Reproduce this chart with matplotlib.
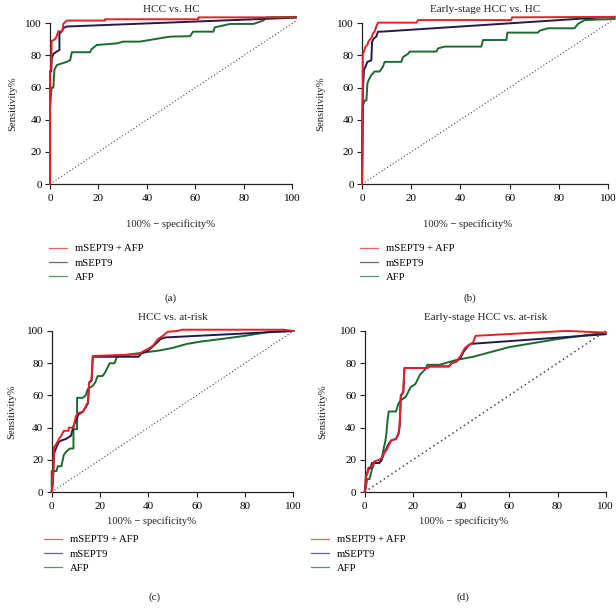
import matplotlib.pyplot as plt
from matplotlib.lines import Line2D

plt.rcParams['font.family'] = ['Liberation Serif', 'DejaVu Serif']

W, H = 616, 610

series_names = ['mSEPT9 + AFP', 'mSEPT9', 'AFP']
series_colors = ['#e3202a', '#1e1d4a', '#1c6a2f']
legend_colors = ['#e66266', '#66658c', '#5a9668']

titles = ['HCC vs. HC', 'Early-stage HCC vs. HC', 'HCC vs. at-risk', 'Early-stage HCC vs. at-risk']
panel_tags = ['(a)', '(b)', '(c)', '(d)']
ticks = [0, 20, 40, 60, 80, 100]

# (a) HCC vs. HC
a_combo_x = [0, 0, 0.5, 0.7, 2, 2.7, 3.4, 4.8, 5.2, 5.5, 6.9, 22.7, 22.7, 61.2, 61.2, 101.4]
a_combo_y = [0, 70, 72, 89, 90, 91.7, 95, 95, 96, 99.6, 101.7, 101.7, 102.5, 102.5, 103.7, 103.7]
a_sept9_x = [0, 0, 0.5, 0.7, 1.4, 2.8, 3.9, 3.9, 4.8, 5.5, 6.9, 101.4]
a_sept9_y = [0, 70, 70, 78, 81, 82.4, 83.4, 93.8, 94.8, 97, 98, 103.5]
a_afp_x = [0, 0, 0.3, 0.7, 1.4, 1.8, 2.8, 4.8, 6.9, 8.3, 9, 16.5, 17.2, 19.3, 27.5, 30.3, 37, 49.5,
           57.8, 59, 67.4, 68, 74.3, 83.9, 88, 89.4, 101.4]
a_afp_y = [0, 46, 54, 60, 60, 71, 74, 75, 76, 77, 82, 82, 84, 86.5, 87.5, 88.6, 88.6, 91.7,
           92, 94.8, 94.8, 97.5, 99.6, 99.6, 101.7, 103.7, 104]

# (b) Early-stage HCC vs. HC
b_combo_x = [0, 0.3, 0.3, 0.8, 1.4, 2.2, 2.7, 3.8, 4.5, 5.1, 5.8, 6.5, 22.1, 22.8, 60.7, 61, 102.7]
b_combo_y = [0, 58.5, 81, 82.4, 85.5, 86.5, 89, 90.7, 93.8, 94.8, 98, 100.4, 100.4, 102, 102, 103.7, 104]
b_sept9_x = [0, 0.2, 0.4, 0.8, 1.4, 2.2, 3.8, 4.1, 4.9, 5.8, 6.5, 7.9, 97.3, 102.7]
b_sept9_y = [0, 46, 59.5, 71, 73, 76, 77, 88.6, 90.7, 91.7, 94.8, 94.8, 103.7, 104]
b_afp_x = [0, 0.4, 1.1, 1.8, 2.2, 2.7, 3.8, 5.1, 7.2, 8.5, 9.2, 16, 16.7, 18.7, 19.4, 30.2, 30.9,
           33.6, 48.5, 49.2, 58.7, 59.1, 71.5, 72.2, 75.6, 86.4, 87.8, 90.5, 102.7]
b_afp_y = [0, 49, 52, 52, 62.6, 64.7, 67.8, 70, 70, 73, 76, 76, 79, 81, 82.4, 82.4, 84.4,
           85.5, 85.5, 89.6, 89.6, 94.2, 94.2, 95.4, 96.9, 96.9, 99.6, 102, 102.7]

# (c) HCC vs. at-risk
c_combo_x = [0, 0.5, 1, 2, 3, 4, 5, 7, 7, 9, 10, 11, 13, 14, 15, 15.5, 16.5, 17, 36, 38, 40,
             42, 44, 46, 48, 52, 54, 96, 100]
c_combo_y = [0, 8, 28, 30, 33, 35, 38, 38, 40, 40, 47, 49, 50, 53, 56, 68, 70, 84.5, 85.5, 87.5, 89,
             91, 95, 97, 99.5, 100, 100.8, 100.8, 100]
c_sept9_x = [0, 0.5, 1, 2, 3, 4, 6, 8, 9, 10, 11, 13, 15, 15.5, 16.5, 17, 36, 37, 40, 43, 45, 47, 100]
c_sept9_y = [0, 6, 24, 28, 31, 32, 33, 35, 41, 44, 48, 50, 55, 68, 69, 84, 84, 86, 88, 92, 95, 96, 100]
c_afp_x = [0, 0, 2, 2.5, 4, 5, 6, 7.5, 9, 9, 10.5, 10.5, 13, 14, 15, 17, 18, 19, 21, 22, 24, 26,
           27, 30, 45, 50, 56, 62, 70, 80, 90, 100]
c_afp_y = [0, 13, 13, 16, 16, 23, 25, 27, 27, 39, 39, 58.5, 58.5, 60, 64, 66, 68, 72, 72, 74, 80, 80,
           84, 85, 88, 89.5, 92, 93.5, 95, 97, 99.5, 100]

# (d) Early-stage HCC vs. at-risk
d_combo_x = [0, 0.3, 0.5, 1, 1.5, 3, 4, 6, 7, 8, 9, 10, 11, 13, 14, 14.5, 15, 16, 16.5, 26, 27,
             35, 36, 38, 40, 41, 42, 43, 44, 45, 46, 83, 85, 100]
d_combo_y = [0, 2, 10, 11, 15, 16, 19, 20, 21, 24, 26, 29, 32, 33, 36, 41, 60, 62, 77, 77, 78,
             78, 80, 81, 85, 88, 90, 91, 92, 93, 97, 100, 100, 99]
d_sept9_x = [0, 0.3, 0.5, 1, 1.5, 2.5, 3, 6, 7, 8, 9, 10, 11, 13, 14, 14.5, 15, 16, 16.5, 26, 27,
             35, 36, 38, 40, 41, 42, 43, 44, 100]
d_sept9_y = [0, 5, 10, 11, 14, 15, 18, 18, 20, 24, 27, 30, 32, 33, 36, 41, 60, 62, 77, 77, 78,
             78, 80, 81, 84, 87, 89, 91, 92, 98]
d_afp_x = [0, 0.5, 1, 2, 3, 4, 6, 7, 8, 8.5, 9, 9.5, 10, 13, 14, 15, 17, 18, 19, 21, 22, 23, 25,
           26, 31, 38, 45, 60, 80, 100]
d_afp_y = [0, 3, 8, 8, 14, 18, 18, 20, 28, 31, 36, 45, 50, 50, 55, 57, 59, 62, 65, 67, 70, 73, 76,
           79, 79, 82, 84, 90, 95, 99]

curves = [
    [(a_combo_x, a_combo_y), (a_sept9_x, a_sept9_y), (a_afp_x, a_afp_y)],
    [(b_combo_x, b_combo_y), (b_sept9_x, b_sept9_y), (b_afp_x, b_afp_y)],
    [(c_combo_x, c_combo_y), (c_sept9_x, c_sept9_y), (c_afp_x, c_afp_y)],
    [(d_combo_x, d_combo_y), (d_sept9_x, d_sept9_y), (d_afp_x, d_afp_y)],
]
diag_end = [102, 102, 100, 100]

# layout in pixels: axes left, axes bottom (from top), width, height
boxes = [(50, 184, 242.4, 160.7), (362, 184, 246, 160.7),
         (51.7, 492, 241.7, 161), (364.7, 492, 241, 161)]
ylabel_x = [13, 321, 12, 323]
xlabel_pos = [(171, 224), (468, 224), (152, 521), (464, 521)]
legend_pos = [(49, 244), (360, 244), (44, 535), (311, 535)]
tag_pos = [(171, 298), (470, 298), (155, 597), (463, 597)]

fig = plt.figure(figsize=(W / 100, H / 100), dpi=100)

for i in range(4):
    l, b, w, h = boxes[i]
    ax = fig.add_axes([l / W, (H - b) / H, w / W, h / H])
    ax.plot([0, diag_end[i]], [0, diag_end[i]], linestyle=(0, (1, 2)), color='#444444',
            lw=0.8 if i < 3 else 1.1, clip_on=False, zorder=1)
    # draw AFP first so the combo line sits on top
    for k in [2, 1, 0]:
        xs, ys = curves[i][k]
        ax.plot(xs, ys, color=series_colors[k], lw=1.4, clip_on=False, zorder=3 + (2 - k))
    ax.set_xlim(0, 100)
    ax.set_ylim(0, 100)
    ax.set_xticks(ticks)
    ax.set_yticks(ticks)
    ax.spines['top'].set_visible(False)
    ax.spines['right'].set_visible(False)
    for s in ['left', 'bottom']:
        ax.spines[s].set_linewidth(0.9)
        ax.spines[s].set_color('#222222')
    ax.tick_params(axis='both', labelsize=8, length=3.5, width=0.8, color='#222222')
    ax.tick_params(axis='x', pad=4)
    ax.tick_params(axis='y', pad=2.5)
    ax.set_title(titles[i], fontsize=8, pad=8, color='#222222')
    ax.set_ylabel('Sensitivity%', fontsize=7.7, color='#222222')
    ax.yaxis.set_label_coords((ylabel_x[i] - l) / w, 0.5)
    ax.yaxis.label.set_va('center')
    ax.set_xlabel('100% \u2212 specificity%', fontsize=7.7, color='#222222')
    xl, yl = xlabel_pos[i]
    ax.xaxis.set_label_coords((xl - l) / w, -(yl - b) / h)
    ax.xaxis.label.set_va('center')

    handles = [Line2D([], [], color=legend_colors[k], lw=0.9) for k in range(3)]
    lx, ly = legend_pos[i]
    fig.legend(handles, series_names, loc='upper left', bbox_to_anchor=(lx / W, (H - ly) / H),
               frameon=False, fontsize=7.7, handlelength=1.7, handletextpad=0.7,
               labelspacing=0.45, borderpad=0, borderaxespad=0)

    tx, ty = tag_pos[i]
    fig.text(tx / W, (H - ty) / H, panel_tags[i], fontsize=8, ha='center', va='center',
             color='#222222')

fig.savefig('out.png', dpi=100)
